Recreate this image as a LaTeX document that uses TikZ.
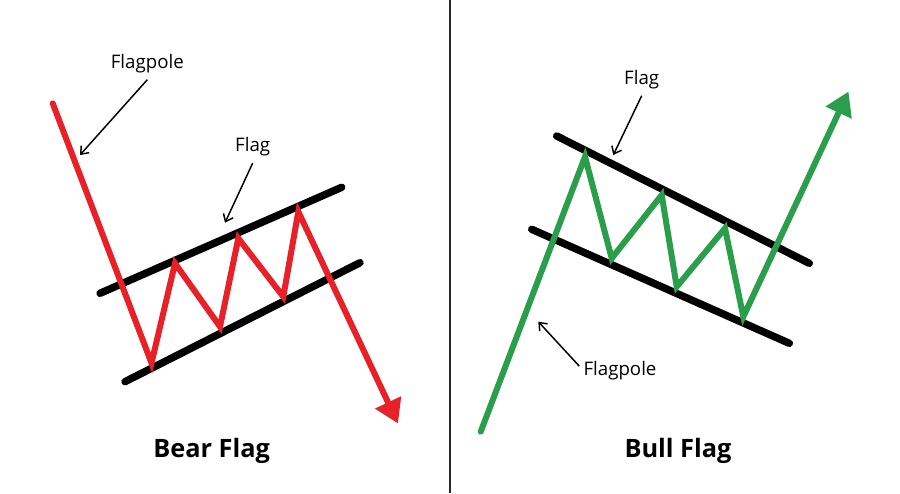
\documentclass[tikz,border=0pt]{standalone}
\usepackage{fontspec}
\setmainfont{Open Sans}
\usetikzlibrary{arrows.meta}
\definecolor{bearred}{RGB}{232,32,40}
\definecolor{bullgreen}{RGB}{42,158,74}
\definecolor{divgray}{RGB}{40,40,40}
\tikzset{
  channel/.style={line width=5.6pt, line cap=round, black},
  bearline/.style={line width=4.5pt, bearred, line cap=round, line join=miter},
  bullline/.style={line width=4.5pt, bullgreen, line cap=round, line join=miter},
  lbl/.style={font=\fontsize{14pt}{17pt}\selectfont, inner sep=1pt, anchor=base},
  ttl/.style={font=\fontsize{19pt}{23pt}\selectfont\bfseries, inner sep=0pt, anchor=base},
  pointer/.style={line width=1.1pt, -{Straight Barb[length=5pt,width=8pt]}}
}
\begin{document}
\begin{tikzpicture}[x=0.75pt,y=-0.75pt]
\useasboundingbox (0,0) rectangle (900,493);
\fill[white] (0,0) rectangle (900,493);
% divider
\coordinate (dtop) at (449.5,0);
\coordinate (dbot) at (449.5,493);
\draw[divgray, line width=1.5pt] (dtop) -- (dbot);

% ---------- Bear flag ----------
\coordinate (bu1) at (100,293.3);
\coordinate (bu2) at (341.7,187.3);
\coordinate (bl1) at (125,381.7);
\coordinate (bl2) at (360,262.7);
\draw[channel] (bu1) -- (bu2);
\draw[channel] (bl1) -- (bl2);

\coordinate (r0) at (52.7,103.3);
\coordinate (r1) at (151.5,363);
\coordinate (r2) at (175,263.3);
\coordinate (r3) at (220,326.7);
\coordinate (r4) at (238.3,238.3);
\coordinate (r5) at (283.3,296.7);
\coordinate (r6) at (298.3,211.7);
\coordinate (r7) at (398,423.5);
\draw[bearline, -{Triangle[length=17.5pt,width=20.5pt]}]
  (r0) -- (r1) -- (r2) -- (r3) -- (r4) -- (r5) -- (r6) -- (r7);

\node[lbl] (bearpole) at (147.3,68.3) {Flagpole};
\coordinate (bearpolept) at (80,155);
\draw[pointer] ([yshift=-4pt]bearpole.south) -- (bearpolept);

\node[lbl] (bearflag) at (252.7,151.7) {Flag};
\coordinate (bearflagpt) at (225,222.7);
\draw[pointer] ([yshift=-4pt]bearflag.south) -- (bearflagpt);

\node[ttl] (beartitle) at (211.7,457.3) {Bear Flag};

% ---------- Bull flag ----------
\coordinate (gu1) at (556.7,136);
\coordinate (gu2) at (809.3,263.3);
\coordinate (gl1) at (531.7,229.3);
\coordinate (gl2) at (789.3,343.3);
\draw[channel] (gu1) -- (gu2);
\draw[channel] (gl1) -- (gl2);

\coordinate (g0) at (480.7,431.7);
\coordinate (g1) at (585,156.7);
\coordinate (g2) at (611.7,258.3);
\coordinate (g3) at (661.7,195);
\coordinate (g4) at (676.7,286.7);
\coordinate (g5) at (725,228.3);
\coordinate (g6) at (743.3,316.7);
\coordinate (g7) at (848.5,91.5);
\draw[bullline, -{Triangle[length=17.5pt,width=20.5pt]}]
  (g0) -- (g1) -- (g2) -- (g3) -- (g4) -- (g5) -- (g6) -- (g7);

\node[lbl] (bullflag) at (641.7,84.3) {Flag};
\coordinate (bullflagpt) at (613.3,155);
\draw[pointer] ([yshift=-4pt]bullflag.south) -- (bullflagpt);

\node[lbl] (bullpole) at (620,375) {Flagpole};
\coordinate (bullpolept) at (538.3,321.7);
\draw[pointer] ([xshift=-2pt,yshift=3pt]bullpole.west) -- (bullpolept);

\node[ttl] (bulltitle) at (678,457.3) {Bull Flag};
\end{tikzpicture}
\end{document}
